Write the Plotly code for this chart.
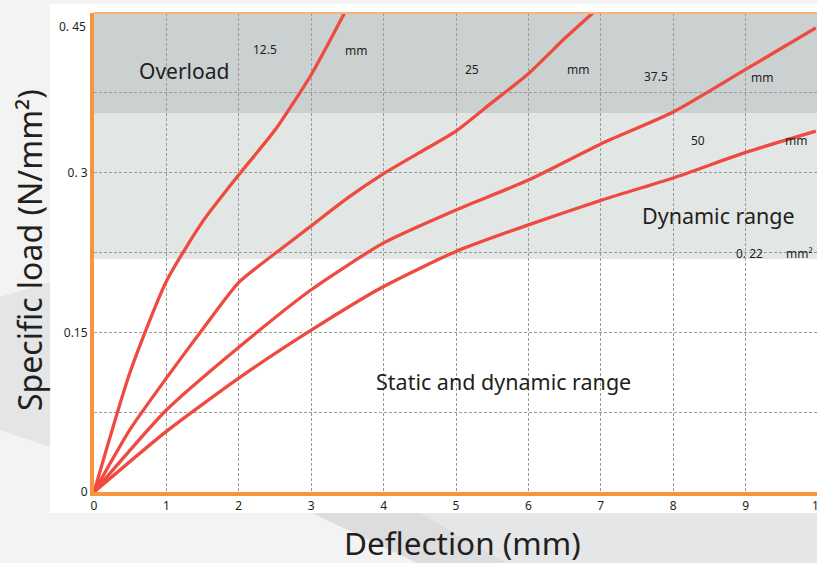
import plotly.graph_objects as go

# ---------------- data ----------------
x_125 = [0, 0.5, 1.0, 1.5, 2.0, 2.5, 3.0, 3.46]
y_125 = [0, 0.113, 0.198, 0.254, 0.298, 0.340, 0.392, 0.45]

x_25 = [0, 0.5, 1.0, 1.5, 2.0, 2.5, 3.0, 3.5, 4.0, 4.5, 5.0, 5.5, 6.0, 6.5, 6.89]
y_25 = [0, 0.059, 0.107, 0.153, 0.197, 0.224, 0.250, 0.276, 0.299, 0.319, 0.339, 0.366, 0.393, 0.426, 0.45]

x_375 = [0, 1.0, 2.0, 3.0, 4.0, 5.0, 6.0, 7.0, 8.0, 9.0, 9.97]
y_375 = [0, 0.077, 0.136, 0.190, 0.234, 0.265, 0.293, 0.327, 0.357, 0.397, 0.436]

x_50 = [0, 1.0, 2.0, 3.0, 4.0, 5.0, 6.0, 7.0, 8.0, 9.0, 9.97]
y_50 = [0, 0.057, 0.107, 0.152, 0.193, 0.226, 0.251, 0.274, 0.295, 0.319, 0.339]

x_ticks = [0, 1, 2, 3, 4, 5, 6, 7, 8, 9]
x_ticktext = ["0", "1", "2", "3", "4", "5", "6", "7", "8", "9"]
y_ticks = [0, 0.15, 0.3]
y_ticktext = ["0", "0.15", "0. 3"]

overload_from = 0.356
dynamic_from = 0.219

# ---------------- styling ----------------
RED = "#ee4a3f"
ORANGE = "#f7953f"
TXT = "#231f20"
FONT = "Noto Sans"

W, H = 817, 563
L, R, T, B = 94, 0, 13, 71
PW, PH = W - L - R, H - T - B


def px(xp):
    return (xp - L) / PW


def py(yp):
    return (H - B - yp) / PH


def poly(points):
    s = "M " + " L ".join(f"{px(a):.5f},{py(b):.5f}" for a, b in points) + " Z"
    return s


fig = go.Figure()

for xs, ys in [(x_125, y_125), (x_25, y_25), (x_375, y_375), (x_50, y_50)]:
    fig.add_trace(go.Scatter(x=xs, y=ys, mode="lines",
                             line=dict(color=RED, width=3.3, shape="spline", smoothing=0.6),
                             hoverinfo="skip", showlegend=False))

shapes = []
# background decorations (paper)
shapes.append(dict(type="path", xref="paper", yref="paper", layer="below",
                   path=poly([(0, 297), (50, 282), (50, 447), (0, 430)]),
                   fillcolor="#e4e5e6", line=dict(width=0)))
shapes.append(dict(type="path", xref="paper", yref="paper", layer="below",
                   path=poly([(312, 513), (420, 513), (507, 563), (417, 563)]),
                   fillcolor="#dcdddf", line=dict(width=0)))
shapes.append(dict(type="path", xref="paper", yref="paper", layer="below",
                   path=poly([(420, 513), (817, 513), (817, 563), (507, 563)]),
                   fillcolor="#e5e6e7", line=dict(width=0)))
# white panel
shapes.append(dict(type="rect", xref="paper", yref="paper", layer="below",
                   x0=px(50), x1=1.0, y0=py(513), y1=py(4),
                   fillcolor="white", line=dict(width=0)))
# ranges
shapes.append(dict(type="rect", xref="paper", yref="y", layer="below",
                   x0=0, x1=1, y0=dynamic_from, y1=overload_from,
                   fillcolor="#e2e7e6", line=dict(width=0)))
shapes.append(dict(type="rect", xref="paper", yref="y", layer="below",
                   x0=0, x1=1, y0=overload_from, y1=0.45,
                   fillcolor="#cbd0d0", line=dict(width=0)))
# top thin orange line
shapes.append(dict(type="line", xref="paper", yref="paper", layer="above",
                   x0=0, x1=1, y0=1, y1=1, line=dict(color="#f9b27a", width=2)))

annotations = []


def add_text(text, x, y, size, xref="x", yref="y", **kw):
    annotations.append(dict(text=text, x=x, y=y, xref=xref, yref=yref, showarrow=False,
                            font=dict(family=FONT, size=size, color=TXT),
                            xanchor="center", yanchor="middle", **kw))


add_text("Overload", 1.243, 0.3957, 21)
add_text("12.5", 2.36, 0.416, 12)
add_text("mm", 3.62, 0.415, 12)
add_text("25", 5.22, 0.397, 12)
add_text("mm", 6.69, 0.397, 12)
add_text("37.5", 7.76, 0.390, 12)
add_text("mm", 9.23, 0.389, 12)
add_text("50", 8.34, 0.330, 12)
add_text("mm", 9.70, 0.330, 12)
add_text("Dynamic range", 8.62, 0.260, 21.5)
add_text("0. 22", 9.05, 0.224, 12)
add_text("mm²", 9.75, 0.224, 12)
add_text("Static and dynamic range", 5.66, 0.104, 21.5)

# extra tick labels
add_text("0. 45", px(72), py(27), 12, xref="paper", yref="paper")
add_text("10", px(819), py(505), 12, xref="paper", yref="paper")

# axis titles
add_text("Specific load (N/mm²)", px(29), py(250), 32, xref="paper", yref="paper", textangle=-90)
add_text("Deflection (mm)", px(462), py(542), 31.5, xref="paper", yref="paper")

fig.update_layout(
    width=W, height=H,
    margin=dict(l=L, r=R, t=T, b=B, pad=0),
    paper_bgcolor="#f3f3f3",
    plot_bgcolor="white",
    shapes=shapes,
    annotations=annotations,
    font=dict(family=FONT, size=12, color=TXT),
    xaxis=dict(range=[0, PW / 72.4], tickvals=x_ticks, ticktext=x_ticktext,
               showgrid=True, gridcolor="#9a9a9a", griddash="3px,2px", gridwidth=1,
               zeroline=False, showline=True, linecolor=ORANGE, linewidth=4,
               ticks="", tickfont=dict(family=FONT, size=12, color=TXT), fixedrange=True),
    yaxis=dict(range=[0, 0.45], tickvals=y_ticks, ticktext=y_ticktext,
               zeroline=False, showline=True, linecolor=ORANGE, linewidth=4,
               ticks="", tickfont=dict(family=FONT, size=12, color=TXT), fixedrange=True,
               showgrid=True, gridcolor="#9a9a9a", griddash="3px,2px", gridwidth=1,
               minor=dict(tickvals=[0.075, 0.225, 0.375], showgrid=True,
                          gridcolor="#9a9a9a", griddash="3px,2px", gridwidth=1)),
)

fig.write_html("out.html", config={"displayModeBar": False},
               post_script="document.body.style.margin='0';document.body.style.overflow='hidden';")
